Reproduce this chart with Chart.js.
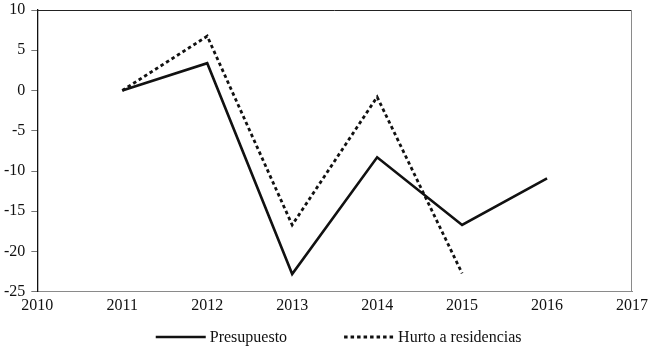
<!DOCTYPE html>
<html>
<head>
<meta charset="utf-8">
<script src="https://cdn.jsdelivr.net/npm/chart.js@4"></script>
<style>
  html, body { margin: 0; padding: 0; background: #fff; }
  #wrap { width: 650px; height: 348px; }
</style>
</head>
<body>
<div id="wrap"><canvas id="myChart" width="650" height="348"></canvas></div>
<script>
const ctx = document.getElementById("myChart").getContext("2d");

const years = [2011, 2012, 2013, 2014, 2015, 2016];
const presupuesto = [0, 3.4, -22.8, -8.3, -16.7, -10.9];
const hurto = [0, 6.75, -16.7, -0.8, -22.7, null];
const seriesNames = ["Presupuesto", "Hurto a residencias"];
const yTicks = [10, 5, 0, -5, -10, -15, -20, -25];

const serif = "'Liberation Serif', 'Times New Roman', serif";

// frame on top and right of the plot area + legend under the axis
const frame = {
    id: "frame",
    afterDraw(chart) {
        const a = chart.chartArea;
        const c = chart.ctx;
        c.save();
        c.lineWidth = 1;
        c.strokeStyle = "#222";
        c.beginPath();
        c.moveTo(a.left, a.top + 0.5);
        c.lineTo(a.right, a.top + 0.5);
        c.stroke();
        c.strokeStyle = "#8a8a8a";
        c.beginPath();
        c.moveTo(a.right - 0.5, a.top);
        c.lineTo(a.right - 0.5, a.bottom);
        c.stroke();

        // legend
        c.font = "16px " + serif;
        c.fillStyle = "#111";
        c.textBaseline = "middle";
        const lineW = 50, gap = 4, itemGap = 57;
        const items = chart.data.datasets.map(ds => ({ ds, w: lineW + gap + c.measureText(ds.label).width }));
        const total = items.reduce((s, it) => s + it.w, 0) + itemGap * (items.length - 1);
        let x = (a.left + a.right) / 2 + 4 - total / 2;
        const y = chart.height - 11;
        items.forEach(it => {
            c.strokeStyle = it.ds.borderColor;
            c.lineWidth = it.ds.borderWidth;
            c.setLineDash(it.ds.borderDash || []);
            c.beginPath();
            c.moveTo(x, y);
            c.lineTo(x + lineW, y);
            c.stroke();
            c.setLineDash([]);
            c.fillText(it.ds.label, x + lineW + gap, y + 1);
            x += it.w + itemGap;
        });
        c.restore();
    }
};

const data = {
    datasets: [
        {
            label: seriesNames[0],
            data: years.map((y, i) => ({ x: y, y: presupuesto[i] })),
            borderColor: "#111",
            borderWidth: 2.6,
            pointRadius: 0,
            tension: 0,
        },
        {
            label: seriesNames[1],
            data: years.map((y, i) => ({ x: y, y: hurto[i] })).filter(p => p.y !== null),
            borderColor: "#111",
            borderWidth: 2.8,
            borderDash: [3.5, 3],
            pointRadius: 0,
            tension: 0,
        },
    ],
};

const config = {
    type: "line",
    data: data,
    options: {
        responsive: false,
        animation: false,
        layout: { padding: { top: 10, right: 18, left: -2, bottom: 29 } },
        plugins: {
            tooltip: { enabled: false },
            legend: { display: false },
        },
        scales: {
            x: {
                type: "linear",
                min: 2010,
                max: 2017,
                afterFit: axis => { axis.paddingRight = 0; },
                ticks: {
                    stepSize: 1,
                    color: "#111",
                    padding: 4,
                    font: { family: serif, size: 16 },
                    callback: v => String(v),
                },
                grid: { display: false, drawTicks: false },
                border: { display: true, color: "#8a8a8a", width: 1 },
            },
            y: {
                min: -25,
                max: 10,
                afterBuildTicks: axis => { axis.ticks = yTicks.map(v => ({ value: v })); },
                afterFit: axis => { axis.paddingTop = 0; },
                ticks: {
                    color: "#111",
                    padding: 6,
                    font: { family: serif, size: 16 },
                },
                grid: { drawOnChartArea: false, drawTicks: true, tickLength: 6, color: "#777" },
                border: { display: true, color: "#111", width: 1.3 },
            },
        },
    },
    plugins: [frame],
};

const myChart = new Chart(ctx, config);
</script>
</body>
</html>
